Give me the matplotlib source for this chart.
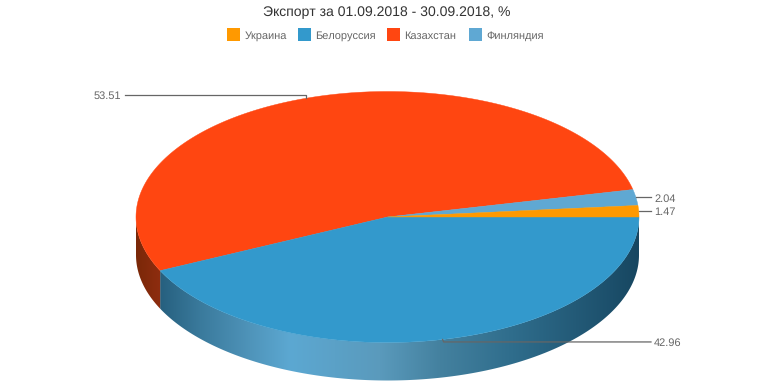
import numpy as np
import matplotlib
matplotlib.use("Agg")
import matplotlib.pyplot as plt
from matplotlib.colors import to_rgb
from matplotlib.patches import Polygon, Rectangle

plt.rcParams['font.family'] = ['Liberation Sans', 'DejaVu Sans']
plt.rcParams['text.hinting'] = 'no_hinting'
plt.rcParams['text.hinting_factor'] = 1

title = "Экспорт за 01.09.2018 - 30.09.2018, %"
categories = ["Украина", "Белоруссия", "Казахстан", "Финляндия"]
values = [1.47, 42.96, 53.51, 2.04]
colors = ["#ff9900", "#3399cc", "#ff4611", "#5fa8d3"]
labels = ["1.47", "42.96", "53.51", "2.04"]

W, H = 774, 387
CX, CY, RX, RY, DEPTH = 387.5, 217.0, 251.5, 125.5, 38.0

fig = plt.figure(figsize=(W / 100, H / 100), dpi=100)
ax = fig.add_axes([0, 0, 1, 1])

# Slice angles come from the values; the pie starts so that Belarus begins at 3 o'clock.
sweep = np.array(values) / sum(values) * 360.0
start = -sweep[0]
bounds = start + np.concatenate([[0], np.cumsum(sweep)])


def pt(a, dy=0.0):
    r = np.radians(a)
    return CX + RX * np.cos(r), CY + RY * np.sin(r) + dy


# Rim shading stops, left to right across the pie
rim_stops = {
    "Белоруссия": ([160, 200, 250, 290, 380, 440, 513, 613, 640],
                   ["#26607f", "#3a7a9c", "#4f94ba", "#5ca8d2", "#5a9abc",
                    "#44819f", "#2f6d8c", "#1c4f6b", "#174660"]),
    "Казахстан": ([136, 162], ["#7a2808", "#902d10"]),
}
xgrid = np.arange(130, 645)
for i, name in enumerate(categories):
    if name not in rim_stops:
        continue
    a0, a1 = max(bounds[i], 0), min(bounds[i + 1], 180)
    arc = np.linspace(a0, a1, 300)
    outline = [pt(a) for a in arc] + [pt(a, DEPTH) for a in arc[::-1]]
    xs, cs = rim_stops[name]
    rgb = np.array([to_rgb(c) for c in cs])
    grad = np.stack([np.interp(xgrid, xs, rgb[:, k]) for k in range(3)], axis=-1)[None, :, :]
    im = ax.imshow(grad, extent=(xgrid[0], xgrid[-1], H, 0), aspect="auto",
                   interpolation="bilinear", zorder=2)
    clip = Polygon(outline, closed=True, transform=ax.transData, facecolor="none", edgecolor="none")
    ax.add_patch(clip)
    im.set_clip_path(clip)

ax.set_xlim(0, W)
ax.set_ylim(H, 0)
ax.axis("off")

# Top face
for i in [2, 3, 1, 0]:
    arc = np.linspace(bounds[i], bounds[i + 1], 240)
    xy = [(CX, CY)] + [pt(a) for a in arc]
    ax.add_patch(Polygon(xy, closed=True, facecolor=colors[i], edgecolor=colors[i],
                         linewidth=0.3, zorder=3))

# Leader lines, anchored at each slice's middle
LINE = "#666666"
for i, name in enumerate(categories):
    mid = (bounds[i] + bounds[i + 1]) / 2
    x, y = pt(mid)
    if name == "Казахстан":
        ly = y - 3.4
        ax.plot([x, x, x - 181], [y, ly, ly], color=LINE, lw=0.9, zorder=4)
        ax.text(x - 185, ly, labels[i], ha="right", va="center_baseline",
                fontsize=8.1, color="#666666", zorder=5)
    else:
        ly = y + 2.5 if name == "Белоруссия" else y
        if name == "Белоруссия":
            ax.plot([x, x + 1, 651], [y, ly, ly], color=LINE, lw=0.9, zorder=4)
        else:
            ax.plot([x, 651], [ly, ly], color=LINE, lw=0.9, zorder=4)
        ax.text(654, ly, labels[i], ha="left", va="center_baseline",
                fontsize=8.1, color="#666666", zorder=5)

ax.text(387, 11, title, ha="center", va="center_baseline", fontsize=10.4, color="#333333")

# Legend
swatch_x = [227, 298, 387, 469]
for c, name, sx in zip(colors, categories, swatch_x):
    ax.add_patch(Rectangle((sx, 28), 13, 13, facecolor=c, edgecolor="none"))
    ax.text(sx + 17.5, 34.5, name, ha="left", va="center_baseline",
            fontsize=8.2, color="#666666")

fig.savefig("out.png", dpi=100)
